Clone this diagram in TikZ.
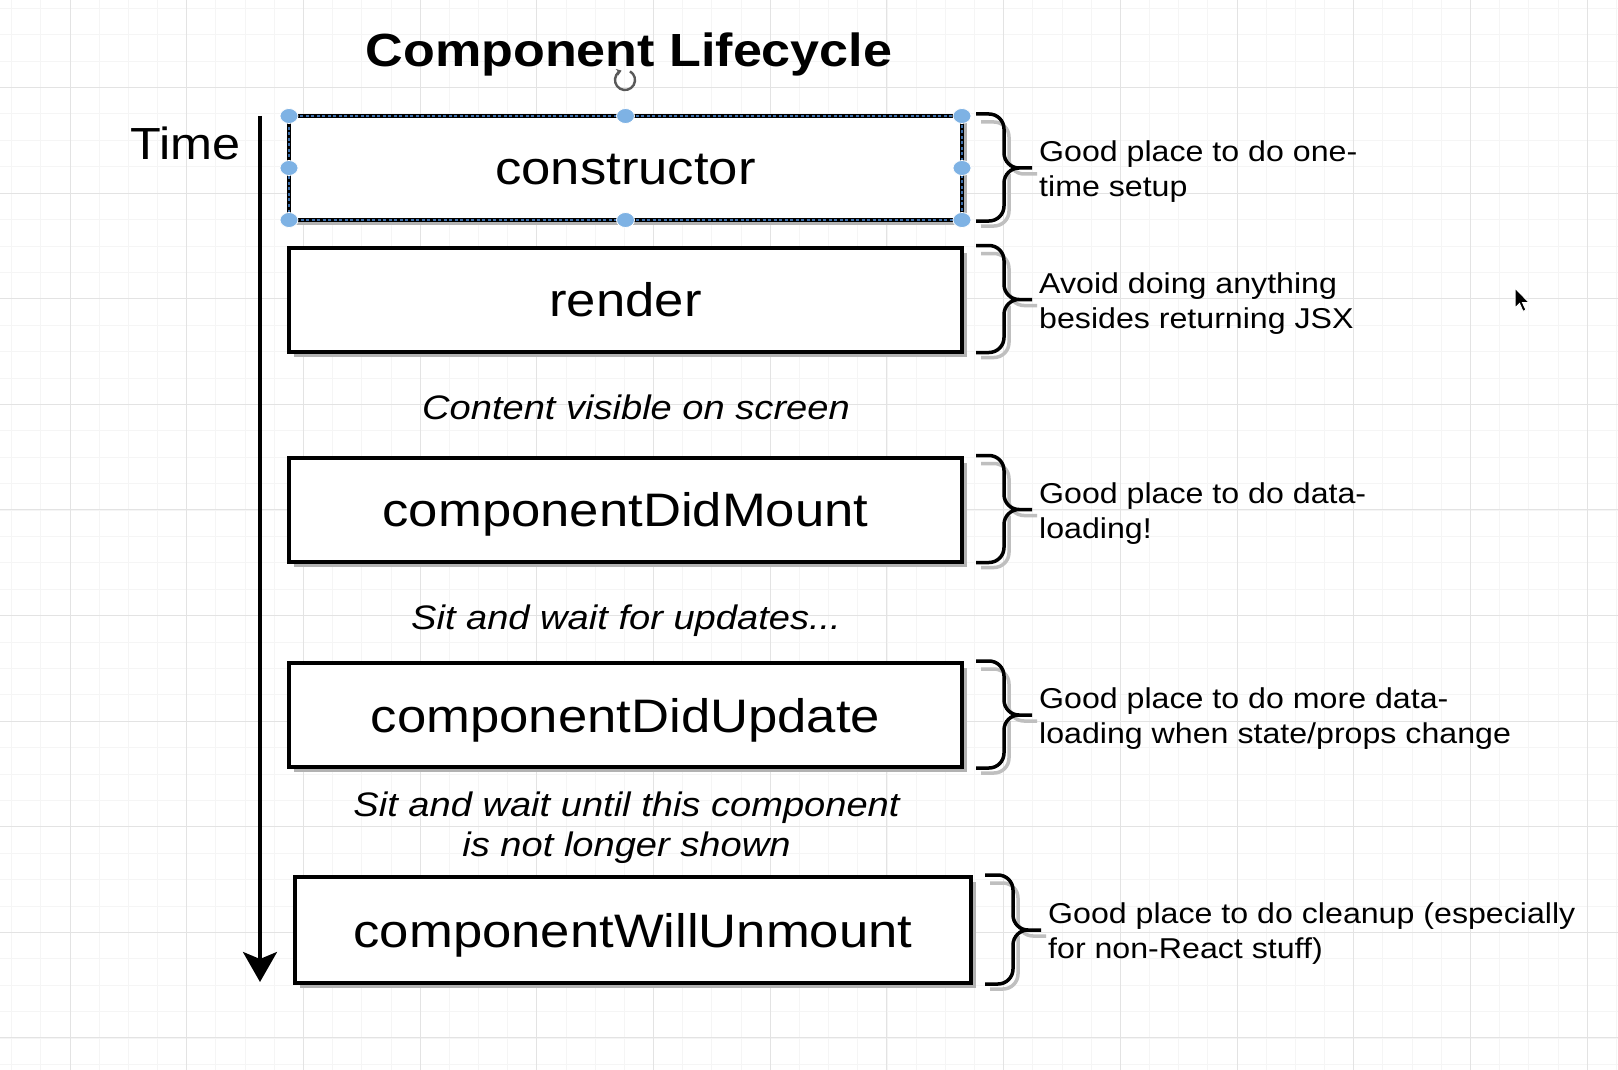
\documentclass[tikz,border=0pt]{standalone}
\usepackage{fontspec}
\setmainfont{Liberation Sans}[FakeStretch=1.12]
\usepackage{tikz}
\usetikzlibrary{
  arrows.meta,
  calc,
  shadows
}
\definecolor{handleblue}{RGB}{126,178,228}
\definecolor{selblue}{RGB}{60,110,170}

\begin{document}
\begin{tikzpicture}[
  x=1pt, y=-1pt,
  gridminor/.style={black!4, line width=0.8pt},
  gridmajor/.style={black!11, line width=1pt},
  lifebox/.style={draw, line width=4pt, fill=white, minimum width=673pt, minimum height=104pt, inner sep=0pt, outer sep=0pt, text height=34pt, text depth=0pt, font=\fontsize{47}{56}\selectfont, drop shadow={shadow xshift=5pt, shadow yshift=-5pt, fill=black!30, opacity=1}},
  bracket/.style={line width=3.5pt, rounded corners=15pt},
  braceshade/.style={bracket, black!25},
  note/.style={anchor=west, align=left, inner sep=0pt, font=\fontsize{28.7}{35}\selectfont},
  waitlabel/.style={inner sep=0pt, align=center, font=\fontsize{34}{40}\selectfont\itshape},
  handle/.style={fill=handleblue, draw=white, line width=0.8pt},
]
% Fondo con cuadricula
\fill[white] (0,0) rectangle (1618,1070);
\useasboundingbox (0,0) rectangle (1618,1070);
\foreach \k in {-2,...,53} \draw[gridminor] ({70+\k*29.175},0) -- ({70+\k*29.175},1070);
\foreach \k in {-3,...,37} \draw[gridminor] (0,{87.5+\k*26.4}) -- (1618,{87.5+\k*26.4});
\foreach \k in {0,...,13} \draw[gridmajor] ({70+\k*116.7},0) -- ({70+\k*116.7},1070);
\foreach \k in {0,...,9} \draw[gridmajor] (0,{87.5+\k*105.6}) -- (1618,{87.5+\k*105.6});

% Titulo y eje de tiempo
\node[font=\fontsize{46.5}{56}\selectfont\bfseries, anchor=base, inner sep=0pt] (title) at (629,67) {Component Lifecycle};
\node[font=\fontsize{45}{54}\selectfont, anchor=base east, inner sep=0pt] (time) at (241,160) {Time};
\coordinate (tstart) at (260,116);
\coordinate (tend) at (260,982);
\draw[line width=3.5pt, -{Stealth[length=30pt, width=34pt, inset=7pt]}] (tstart) -- (tend);

% Metodos del ciclo de vida
\node[lifebox] (ctor) at (625.5,168) {constructor};
\node[lifebox] (render) at (625.5,299.5) {render};
\node[lifebox] (mount) at (625.5,509.5) {componentDidMount};
\node[lifebox] (update) at (625.5,715) {componentDidUpdate};
\node[lifebox, minimum width=676pt, minimum height=106pt] (unmount) at (633,930) {componentWillUnmount};

% Llaves
\foreach \b in {ctor,render,mount,update,unmount} {
  \draw[braceshade] ($(\b.north east)+(19,6)$) -| ($(\b.east)+(47,6)$) -- ($(\b.east)+(75,6)$)
                    ($(\b.south east)+(19,6)$) -| ($(\b.east)+(47,6)$);
  \draw[bracket] ($(\b.north east)+(14,-2)$) -| ($(\b.east)+(42,0)$) -- ($(\b.east)+(70,0)$)
                 ($(\b.south east)+(14,1)$) -| ($(\b.east)+(42,0)$) -- ($(\b.east)+(70,0)$);
}

% Notas
\foreach \b/\t in {ctor/{Good place to do one-\\time setup},
                   render/{Avoid doing anything\\besides returning JSX},
                   mount/{Good place to do data-\\loading!},
                   update/{Good place to do more data-\\loading when state/props change},
                   unmount/{Good place to do cleanup (especially\\for non-React stuff)}} {
  \node[note] (\b-note) at ($(\b.east)+(77,4)$) {\t};
}

% Estados intermedios
\node[waitlabel, anchor=base] (visible) at (636,419) {Content visible on screen};
\node[waitlabel, anchor=base] (waitupd) at (626,629) {Sit and wait for updates...};
\node[waitlabel] (waitunmount) at (626.5,828) {Sit and wait until this component\\is not longer shown};

% Seleccion activa
\draw[selblue, line width=1.4pt, dash pattern=on 3pt off 2.5pt] (ctor.north west) rectangle (ctor.south east);
\foreach \a in {north west,north,north east,west,east,south west,south,south east}
  \filldraw[handle] (ctor.\a) ellipse [x radius=9, y radius=7.5];
\draw[line width=2.4pt, black!65, -{Stealth[length=5pt, width=7pt]}] (625,80) ++(-60:10) arc[start angle=-60, end angle=250, radius=10];

% Cursor
\filldraw[fill=black, draw=white, line width=1pt] (1515,288) -- ++(0,20) -- ++(4.5,-4.5) -- ++(3.5,8) -- ++(3,-1.5) -- ++(-3.5,-7.5) -- ++(6.5,0) -- cycle;

\end{tikzpicture}
\end{document}
